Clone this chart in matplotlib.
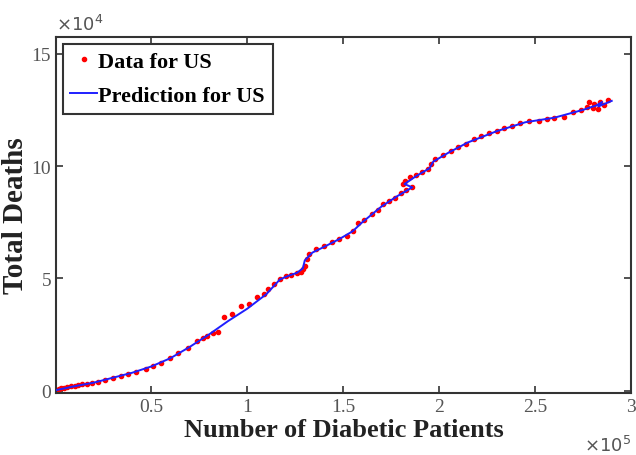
import matplotlib
matplotlib.use("Agg")
import matplotlib.pyplot as plt

# x in units of 1e5 patients, y in units of 1e4 deaths
data_patients = [0.005, 0.01, 0.02, 0.03, 0.045, 0.06, 0.08, 0.1, 0.12, 0.14, 0.165, 0.19,
                 0.22, 0.26, 0.3, 0.34, 0.38, 0.42, 0.47, 0.51, 0.55, 0.6, 0.64, 0.69, 0.74,
                 0.77, 0.79, 0.82, 0.85, 0.88, 0.92, 0.97, 1.01, 1.05, 1.09, 1.11, 1.14,
                 1.17, 1.2, 1.23, 1.26, 1.28, 1.29, 1.3, 1.31, 1.32, 1.36, 1.4, 1.44, 1.48,
                 1.52, 1.55, 1.58, 1.61, 1.65, 1.68, 1.71, 1.74, 1.77, 1.8, 1.83, 1.86, 1.81,
                 1.82, 1.85, 1.88, 1.91, 1.94, 1.96, 1.98, 2.02, 2.06, 2.1, 2.14, 2.18, 2.22,
                 2.26, 2.3, 2.34, 2.38, 2.42, 2.47, 2.52, 2.56, 2.6, 2.65, 2.7, 2.74, 2.77,
                 2.78, 2.8, 2.81, 2.83, 2.84, 2.86, 2.88]
data_deaths = [0.03, 0.05, 0.08, 0.1, 0.13, 0.15, 0.19, 0.22, 0.26, 0.28, 0.32, 0.34,
               0.38, 0.48, 0.57, 0.66, 0.75, 0.85, 0.97, 1.08, 1.22, 1.45, 1.66, 1.9, 2.2,
               2.35, 2.42, 2.55, 2.62, 3.29, 3.42, 3.78, 3.87, 4.18, 4.3, 4.53, 4.75,
               4.98, 5.1, 5.15, 5.25, 5.3, 5.42, 5.55, 5.85, 6.1, 6.3, 6.45, 6.6, 6.75,
               6.9, 7.1, 7.45, 7.6, 7.85, 8.05, 8.3, 8.45, 8.6, 8.8, 8.95, 9.05, 9.2,
               9.35, 9.5, 9.6, 9.75, 9.85, 10.1, 10.3, 10.5, 10.65, 10.85, 11.0, 11.2, 11.35,
               11.45, 11.55, 11.7, 11.8, 11.9, 12.0, 12.0, 12.1, 12.15, 12.2, 12.4, 12.5, 12.65,
               12.85, 12.6, 12.75, 12.55, 12.85, 12.7, 12.95]

pred_patients = [0.0, 0.1, 0.2, 0.3, 0.4, 0.5, 0.6, 0.7, 0.8, 0.9, 1.0, 1.1, 1.17, 1.21,
                 1.26, 1.29, 1.3, 1.34, 1.4, 1.48, 1.55, 1.6, 1.7, 1.78, 1.86, 1.82, 1.88,
                 1.95, 1.97, 2.05, 2.15, 2.3, 2.45, 2.6, 2.75, 2.82, 2.85, 2.83, 2.9]
pred_deaths = [0.02, 0.2, 0.36, 0.58, 0.8, 1.08, 1.45, 1.95, 2.5, 3.1, 3.65, 4.3, 4.95, 5.1,
               5.25, 5.45, 5.8, 6.15, 6.4, 6.75, 7.1, 7.5, 8.2, 8.65, 9.05, 9.2, 9.55,
               9.9, 10.2, 10.6, 11.05, 11.55, 11.95, 12.15, 12.5, 12.7, 12.85, 12.65, 12.9]

plt.rcParams['font.family'] = 'Liberation Serif'

fig = plt.figure(figsize=(6.36, 4.56), dpi=100)
ax = fig.add_axes([0.088, 0.136, 0.904, 0.781])

ax.plot(data_patients, data_deaths, 'r.', markersize=6, label='Data for US', zorder=2)
ax.plot(pred_patients, pred_deaths, color='#1f1fff', linewidth=1.4,
        label='Prediction for US', zorder=3)

ax.set_xlim(0.003, 3.0)
ax.set_ylim(-0.1, 15.75)
ax.set_xticks([0.5, 1, 1.5, 2, 2.5, 3])
ax.set_xticklabels(['0.5', '1', '1.5', '2', '2.5', '3'])
ax.set_yticks([0, 5, 10, 15])
ax.tick_params(direction='in', length=5, width=1.2, top=True, right=True,
               labelsize=14, labelcolor='#555555', color='#333333')
for s in ax.spines.values():
    s.set_linewidth(1.5)
    s.set_color('#333333')

ax.set_xlabel('Number of Diabetic Patients', fontsize=19, fontweight='bold',
              color='#222222', labelpad=2)
ax.set_ylabel('Total Deaths', fontsize=21, fontweight='bold', color='#222222', labelpad=2)

ax.text(0.0, 1.008, r'$\times10^4$', transform=ax.transAxes, fontsize=13,
        color='#555555', ha='left', va='bottom')
ax.text(1.0, -0.118, r'$\times10^5$', transform=ax.transAxes, fontsize=13,
        color='#555555', ha='right', va='top')

leg = ax.legend(loc='upper left', prop={'weight': 'bold', 'size': 16},
                fancybox=False, framealpha=1, edgecolor='#333333',
                handlelength=1.2, handletextpad=0.05, borderpad=0.35,
                labelspacing=0.6, borderaxespad=0.3, markerscale=1.0)
leg.get_frame().set_linewidth(1.5)

plt.savefig('out.png', dpi=100)
